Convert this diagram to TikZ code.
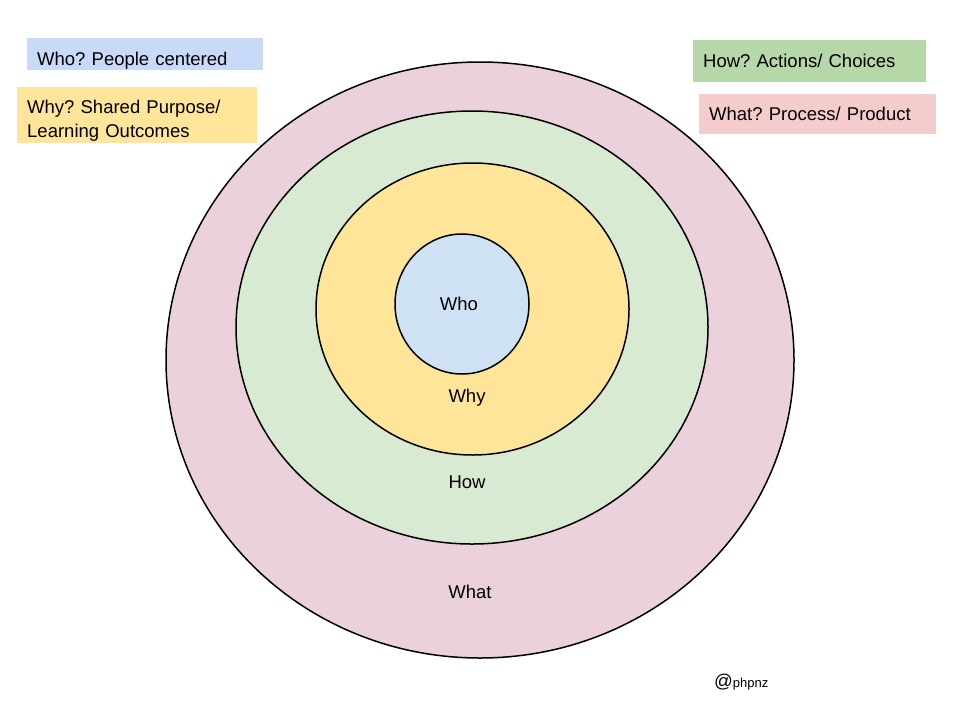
\documentclass[tikz,border=0pt]{standalone}
\usepackage{fontspec}
\setmainfont{Liberation Sans}
\usetikzlibrary{shapes.geometric,positioning}
\frenchspacing

\definecolor{whofill}{HTML}{CFE2F3}
\definecolor{whyfill}{HTML}{FFE599}
\definecolor{howfill}{HTML}{D9EAD3}
\definecolor{whatfill}{HTML}{EAD1DC}
\definecolor{whokey}{HTML}{C9DAF8}
\definecolor{howkey}{HTML}{B6D7A8}
\definecolor{whatkey}{HTML}{F4CCCC}

\begin{document}
\begin{tikzpicture}[
    x=1pt, y=-1pt,
    ring/.style={ellipse, draw=black, line width=1.5pt, inner sep=0pt},
    word/.style={font=\fontsize{18.5}{22}\selectfont},
    key/.style={anchor=north west, inner xsep=10pt, inner ysep=0pt,
                align=left, font=\fontsize{18.5}{24}\selectfont},
  ]
  \useasboundingbox (0,0) rectangle (960,720);

  % the four rings, outside in
  \node[ring, fill=whatfill, minimum width=628pt, minimum height=596pt] (what) at (480,360) {};
  \node[ring, fill=howfill, minimum width=472pt, minimum height=433pt] (how) at (472,327.5) {};
  \node[ring, fill=whyfill, minimum width=313pt, minimum height=292pt] (why) at (472.5,309) {};
  \node[ring, fill=whofill, minimum width=134pt, minimum height=140pt] (who) at (462,304) {};

  \node[word] (wholbl) at (459,304) {Who};
  \node[word] (whylbl) at (467,398) {Why};
  \node[word] (howlbl) at (467,482) {How};
  \node[word] (whatlbl) at (470,592) {What};

  % key
  \node[key, fill=whokey, text width=216pt, minimum height=32pt,
        text height=22pt, text depth=0pt] (whokeybox) at (27,38) {Who? People centered};
  \node[key, fill=whyfill, text width=220pt, minimum height=56pt,
        text height=14pt, text depth=18pt] (whykeybox) at (17,87) {Why? Shared Purpose/\\Learning Outcomes};
  \node[key, fill=howkey, text width=213pt, minimum height=42pt] (howkeybox) at (693,40) {How? Actions/ Choices};
  \node[key, fill=whatkey, text width=217pt, minimum height=40pt] (whatkeybox) at (699,94) {What? Process/ Product};

  \node[anchor=base west, inner sep=0pt] (handle) at (714,687)
    {{\fontsize{18.5}{20}\selectfont @}{\fontsize{13}{15}\selectfont phpnz}};
\end{tikzpicture}
\end{document}
